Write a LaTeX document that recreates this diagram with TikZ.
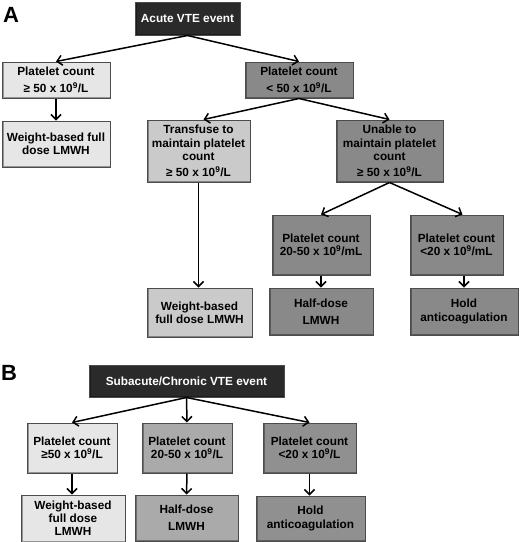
\documentclass[tikz,border=0pt]{standalone}
\usepackage{fontspec}
\setmainfont{Liberation Sans}
\usepackage{tikz}
\usetikzlibrary{arrows.meta,positioning,calc}
\definecolor{evdark}{HTML}{2A2A2A}
\definecolor{graylight}{HTML}{E6E6E6}
\definecolor{graymid}{HTML}{CACACA}
\definecolor{graydark}{HTML}{898989}
\definecolor{grayb}{HTML}{AAAAAA}
\definecolor{grayc}{HTML}{909090}
\tikzset{
  block/.style={draw=black!70, line width=1pt, align=center, inner sep=1pt,
    font=\fontsize{11.8}{13.2}\selectfont\bfseries, fill=#1,
    path picture={\draw[#1!65!black, line width=3pt]
      (path picture bounding box.north west) -- (path picture bounding box.south west)
      -- (path picture bounding box.south east);}},
  bevent/.style={block=evdark, text=white},
  blight/.style={block=graylight},
  bmid/.style={block=graymid},
  bdark/.style={block=graydark},
  bgrayb/.style={block=grayb},
  bgrayc/.style={block=grayc},
  arrow/.style={-{Straight Barb[length=5pt,width=10pt]}, line width=1.5pt},
  panel/.style={font=\fontsize{22}{22}\selectfont\bfseries}
}
\newcommand{\gnine}{10\textsuperscript{9}}

\begin{document}
\begin{tikzpicture}[x=1pt,y=-1pt]
  \useasboundingbox (0,0) rectangle (520,542);

  % panel A
  \node[panel] (labA) at (11,15) {A};
  \node[bevent, minimum width=105pt, minimum height=33pt] (acute) at (187.5,18.5) {Acute VTE event};

  \node[blight, minimum width=108pt, minimum height=36pt] (pA1) at (56,80) {Platelet count\\[4pt]≥ 50 x \gnine/L};
  \node[bdark, minimum width=108pt, minimum height=36pt] (pA2) at (299,80) {Platelet count\\[4pt]\char"003C{} 50 x \gnine/L};
  \node[blight, minimum width=108pt, minimum height=46pt] (wA1) at (56,144) {Weight-based full\\dose LMWH};

  \node[bmid, minimum width=103pt, minimum height=62pt] (trans) at (198.5,151) {Transfuse to\\maintain platelet\\count\\[3pt]≥ 50 x \gnine/L};
  \node[bdark, minimum width=107pt, minimum height=62pt] (unable) at (389.5,151) {Unable to\\maintain platelet\\count\\[3pt]≥ 50 x \gnine/L};

  \node[bdark, minimum width=98pt, minimum height=60pt] (p2050) at (321,245) {Platelet count\\20-50 x \gnine/mL};
  \node[bdark, minimum width=93pt, minimum height=60pt] (p20) at (456.5,245) {Platelet count\\\char"003C{}20 x \gnine/mL};

  \node[bmid, minimum width=105pt, minimum height=49pt] (wA2) at (199.5,312.5) {Weight-based\\full dose LMWH};
  \node[bdark, minimum width=104pt, minimum height=47pt] (half) at (321,311.5) {Half-dose\\[4pt]LMWH};
  \node[bdark, minimum width=108pt, minimum height=47pt] (hold) at (464,311.5) {Hold\\anticoagulation};

  \draw[arrow] (acute.south) -- (pA1.north);
  \draw[arrow] (acute.south) -- (pA2.north);
  \draw[arrow] (pA1.south) -- (wA1.north);
  \draw[arrow] (pA2.south) -- ($(trans.north)+(5,0)$);
  \draw[arrow] (pA2.south) -- (unable.north);
  \draw[arrow] (trans.south) -- (wA2.north -| trans.south);
  \draw[arrow] (unable.south) -- (p2050.north);
  \draw[arrow] (unable.south) -- ($(p20.north)+(6,0)$);
  \draw[arrow] (p2050.south) -- (half.north);
  \draw[arrow] (hold.north |- p20.south) -- (hold.north);

  % panel B
  \node[panel] (labB) at (9,373) {B};
  \node[bevent, minimum width=195pt, minimum height=32pt] (sub) at (186.5,381) {Subacute/Chronic VTE event};

  \node[blight, minimum width=90pt, minimum height=50pt] (pB1) at (72,448) {Platelet count\\≥50 x \gnine/L};
  \node[bgrayb, minimum width=90pt, minimum height=50pt] (pB2) at (187,448) {Platelet count\\20-50 x \gnine/L};
  \node[bgrayc, minimum width=93pt, minimum height=50pt] (pB3) at (309.5,448) {Platelet count\\\char"003C{}20 x \gnine/L};

  \node[blight, minimum width=104pt, minimum height=47pt] (wB1) at (73,518.5) {Weight-based\\full dose\\LMWH};
  \node[bgrayb, minimum width=103pt, minimum height=46pt] (halfB) at (186.5,518) {Half-dose\\[4pt]LMWH};
  \node[bgrayc, minimum width=109pt, minimum height=45pt] (holdB) at (310.5,518.5) {Hold\\anticoagulation};

  \draw[arrow] (sub.south) -- (pB1.north);
  \draw[arrow] (sub.south) -- (pB2.north);
  \draw[arrow] (sub.south) -- (pB3.north);
  \draw[arrow] (pB1.south) -- (pB1.south |- wB1.north);
  \draw[arrow] (pB2.south) -- (halfB.north);
  \draw[arrow] (pB3.south) -- (pB3.south |- holdB.north);
\end{tikzpicture}
\end{document}
